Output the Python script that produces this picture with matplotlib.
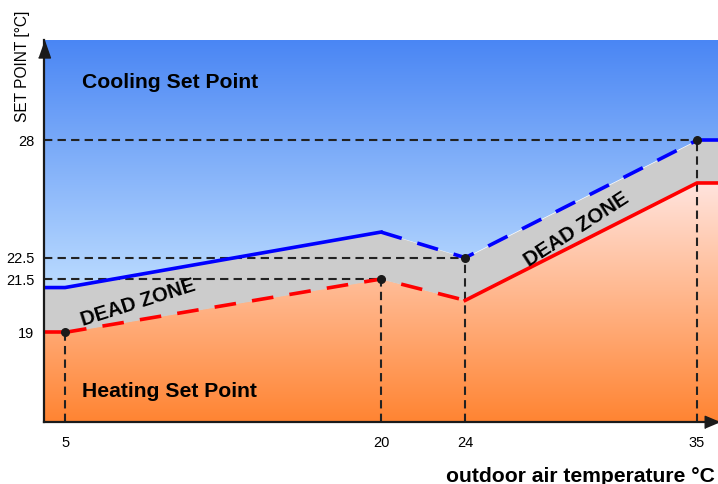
import numpy as np
import matplotlib.pyplot as plt
from matplotlib.colors import LinearSegmentedColormap
from matplotlib.patches import Polygon

plt.rcParams['font.family'] = ['Liberation Sans', 'DejaVu Sans']

# outdoor temperature breakpoints and set points
temp = [4, 5, 20, 24, 35, 36]
heating = [19, 19, 21.5, 20.5, 26, 26]
cooling = [21.1, 21.1, 23.7, 22.5, 28, 28]

# marked points (x tick / y tick values)
mark_x = [5, 20, 24, 35]
mark_y = [19, 21.5, 22.5, 28]

x_ticks = [5, 20, 24, 35]
y_ticks = [19, 21.5, 22.5, 28]

xmin, xmax = 4, 36
ymin, ymax = 14.8, 32.7

fig = plt.figure(figsize=(7.18, 4.84), dpi=100)
ax = fig.add_axes([44 / 718, 62 / 484, 674 / 718, 382 / 484])
ax.set_xlim(xmin, xmax)
ax.set_ylim(ymin, ymax)

# background gradients clipped to the zones
blue_cmap = LinearSegmentedColormap.from_list("b", ["#bcdcff", "#4a86f4"])
orange_cmap = LinearSegmentedColormap.from_list("o", ["#ff8432", "#ffe4de"])

grad = np.linspace(0, 1, 256).reshape(-1, 1)
im_b = ax.imshow(grad, extent=[xmin, xmax, 21.0, ymax], origin="lower",
                 aspect="auto", cmap=blue_cmap, zorder=1)
poly_b = Polygon(list(zip(temp, cooling)) + [(xmax, ymax), (xmin, ymax)],
                 closed=True, transform=ax.transData, facecolor="none", edgecolor="none")
ax.add_patch(poly_b)
im_b.set_clip_path(poly_b)

im_o = ax.imshow(grad, extent=[xmin, xmax, ymin, 26], origin="lower",
                 aspect="auto", cmap=orange_cmap, zorder=1)
poly_o = Polygon(list(zip(temp, heating)) + [(xmax, ymin), (xmin, ymin)],
                 closed=True, transform=ax.transData, facecolor="none", edgecolor="none")
ax.add_patch(poly_o)
im_o.set_clip_path(poly_o)

ax.fill_between(temp, heating, cooling, color="#cccccc", zorder=1, lw=0)

# guide lines
for mx, my in zip(mark_x, mark_y):
    ax.plot([xmin, mx], [my, my], color="#222222", lw=1.5, dashes=(4, 2.5), zorder=3)
    ax.plot([mx, mx], [ymin, my], color="#222222", lw=1.5, dashes=(4, 2.5), zorder=3)

# set point lines
lw = 2.6
dash = (6, 4.5)
ax.plot(temp[:3], cooling[:3], color="#0000ff", lw=lw, zorder=4)
ax.plot(temp[2:5], cooling[2:5], color="#0000ff", lw=lw, dashes=dash, zorder=4)
ax.plot(temp[4:], cooling[4:], color="#0000ff", lw=lw, zorder=4)

ax.plot(temp[:2], heating[:2], color="#ff0000", lw=lw, zorder=4)
ax.plot(temp[1:4], heating[1:4], color="#ff0000", lw=lw, dashes=dash, zorder=4)
ax.plot(temp[3:], heating[3:], color="#ff0000", lw=lw, zorder=4)

ax.scatter(mark_x, mark_y, s=30, color="#1a1a1a", zorder=5)

# axes with arrow heads
for s in ["top", "right"]:
    ax.spines[s].set_visible(False)
for s in ["left", "bottom"]:
    ax.spines[s].set_linewidth(1.6)
    ax.spines[s].set_color("#1a1a1a")
    ax.spines[s].set_zorder(6)
up_arrow = [(-3.5, -5), (3.5, -5), (0, 5)]
right_arrow = [(-5, -4.2), (-5, 4.2), (5, 0)]
ax.plot([0], [1 - 8.5 / 382], marker=up_arrow, ms=12.2, color="#1a1a1a",
        transform=ax.transAxes, clip_on=False, zorder=7)
ax.plot([1 - 6.5 / 674], [0], marker=right_arrow, ms=10.5, color="#1a1a1a",
        transform=ax.transAxes, clip_on=False, zorder=7)

ax.set_xticks(x_ticks)
ax.set_xticklabels([str(t) for t in x_ticks], fontsize=10.5)
ax.set_yticks(y_ticks)
ax.set_yticklabels([str(t) for t in y_ticks], fontsize=10.5)
ax.tick_params(length=0)
ax.tick_params(axis="x", pad=10)
ax.tick_params(axis="y", pad=7)

# texts
ax.text(5.8, 30.72, "Cooling Set Point", fontsize=15.2, fontweight="bold", va="center", zorder=8)
ax.text(5.8, 16.22, "Heating Set Point", fontsize=15.2, fontweight="bold", va="center", zorder=8)
ax.text(8.45, 20.37, "DEAD ZONE", fontsize=14.5, fontweight="bold", rotation=17.5,
        ha="center", va="center", zorder=8)
ax.text(29.3, 23.8, "DEAD ZONE", fontsize=14.8, fontweight="bold", rotation=33,
        ha="center", va="center", zorder=8)

fig.text(23 / 718, 1 - 66 / 484, "SET POINT [°C]", rotation=90, fontsize=11.2,
         ha="center", va="center")
fig.text(715 / 718, 1 - 476 / 484, "outdoor air temperature °C", fontsize=15.2,
         fontweight="bold", ha="right", va="center")

fig.savefig("out.png", dpi=100)
